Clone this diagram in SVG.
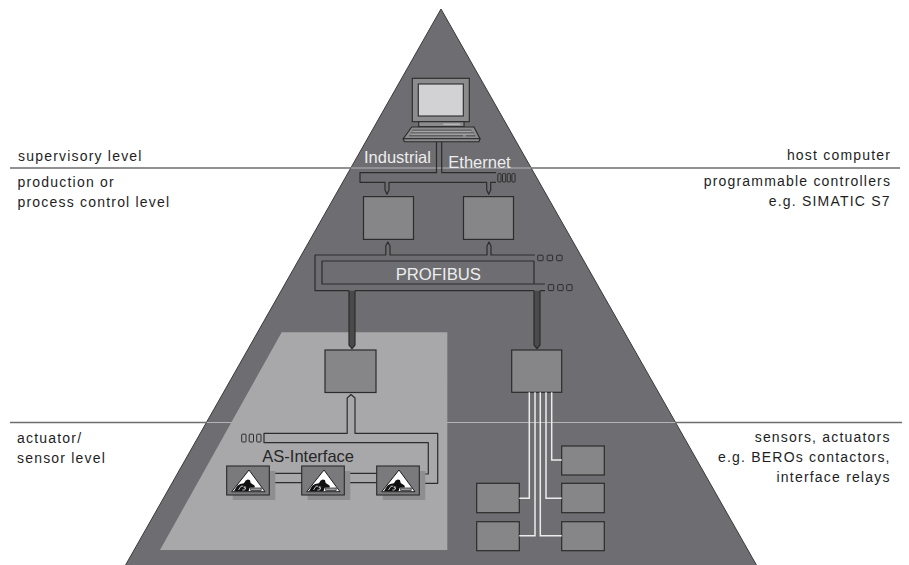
<svg xmlns="http://www.w3.org/2000/svg" width="909" height="565" viewBox="0 0 909 565">
  <style>
    .label { font-family: "Liberation Sans", Arial, sans-serif; font-size: 14px; letter-spacing: 1.2px; fill: #1e1e1e; }
    .end { text-anchor: end; }
    .bus-name { font-family: "Liberation Sans", Arial, sans-serif; font-size: 16.5px; fill: #ededed; }
    .lvl-out { stroke: #6e6e6e; stroke-width: 1.3; fill: none; }
    .lvl-in { stroke: #b4b4b7; stroke-width: 1; fill: none; }
    .box { fill: #868689; stroke: #2c2c2c; stroke-width: 1.2; }
    .pipe { fill: none; stroke: #2c2c2c; stroke-width: 1.2; stroke-linejoin: round; }
    .dot { stroke: #2c2c2c; stroke-width: 1; }
    .wire { fill: none; stroke: #ececec; stroke-width: 1.5; }
    .hw { fill: #8c8c8f; stroke: #2a2a2a; stroke-width: 1.1; }
    .module { fill: #7a7a7d; stroke: #2a2a2a; stroke-width: 1.1; }
    .shadow { fill: #8e8e91; }
  </style>
  <defs>
    <!-- AS-i slave symbol, drawn relative to the module's top-left corner -->
    <g id="asi-icon">
      <path d="M22.3,4 L5,25.7 L38.3,25.7 Z" fill="#ffffff" stroke="#1e1e1e" stroke-width="1"/>
      <path d="M7.2,25.2 L10.5,19.8 L13.5,18 L17.2,17.2 L19,14.6 L21,13.4 L23.2,14 L24,17 L27.8,19.4 L28.2,21.6 L23,21.8 L21.8,25.2 Z" fill="#111111"/>
      <path d="M11.8,24 L14.3,20.2 H16.6 M15.6,24 H17.8 L19.2,21.8 H17.2 L18.6,20" stroke="#ffffff" stroke-width="0.7" fill="none"/>
      <rect x="24" y="22" width="10.5" height="2.6" fill="#9a9a9d" stroke="#1e1e1e" stroke-width="0.7"/>
    </g>
  </defs>

  <rect x="0" y="0" width="909" height="565" fill="#ffffff"/>

  <!-- pyramid -->
  <g id="pyramid">
    <polygon points="441,9 125,566 757,566" fill="#6e6e72" stroke="#3a3a3a" stroke-width="1"/>
  </g>

  <!-- level separators -->
  <g id="level-lines">
    <path class="lvl-out" d="M10,168 H351 M531,168 H900 M10,422.5 H206.8 M675.2,422.5 H902"/>
    <path class="lvl-in" d="M351,168 H531 M206.8,422.5 H675.2"/>
  </g>

  <!-- field-level area with AS-Interface -->
  <g id="asi-area">
    <polygon points="281.7,332.3 447.3,332.3 447.3,550 160,550" fill="#a8a8ab"/>
  </g>

  <!-- level labels -->
  <g id="labels-left">
    <text class="label" x="18" y="160.5">supervisory level</text>
    <text class="label" x="17.5" y="186.5">production or</text>
    <text class="label" x="17.5" y="206.5">process control level</text>
    <text class="label" x="17" y="443">actuator/</text>
    <text class="label" x="17" y="463">sensor level</text>
  </g>
  <g id="labels-right">
    <text class="label end" x="891.2" y="159.5">host computer</text>
    <text class="label end" x="891.2" y="186">programmable controllers</text>
    <text class="label end" x="890.7" y="205.5">e.g. SIMATIC S7</text>
    <text class="label end" x="890.7" y="441.5">sensors, actuators</text>
    <text class="label end" x="890.7" y="461.5">e.g. BEROs contactors,</text>
    <text class="label end" x="890.7" y="481.5">interface relays</text>
  </g>

  <!-- host computer -->
  <g id="host-computer">
    <rect class="hw" x="412.3" y="78.3" width="57" height="43.4"/>
    <rect x="418.3" y="84" width="45" height="32" fill="#d2d2d4" stroke="#2a2a2a" stroke-width="1.1"/>
    <rect class="hw" x="418.7" y="121.7" width="45.3" height="5"/>
    <path d="M443.3,124.2 H460" stroke="#cfcfd1" stroke-width="0.9"/>
    <polygon class="hw" points="411.7,127 474,127 480,138.7 403.3,138.7"/>
    <polygon class="hw" points="403.3,138.7 480,138.7 479,141.7 404.3,141.7"/>
    <path d="M412.5,130.2 H471.5 M410.8,133 H474 M409.2,135.8 H463 M466,135.8 H475.5" stroke="#3a3a3a" stroke-width="0.8" fill="none"/>
    <path d="M413,131.3 H471 M411.3,134.1 H473.5" stroke="#c4c4c6" stroke-width="0.6" fill="none"/>
  </g>

  <!-- programmable controllers -->
  <g id="plc-1"><rect class="box" x="363.5" y="196.6" width="50" height="42.8"/></g>
  <g id="plc-2"><rect class="box" x="463.5" y="196.6" width="50" height="42.8"/></g>

  <!-- PROFIBUS slaves -->
  <g id="asi-master"><rect class="box" x="325" y="350" width="51" height="42.5"/></g>
  <g id="io-station"><rect class="box" x="511.7" y="350" width="50" height="42.3"/></g>

  <!-- sensors / actuators on the right -->
  <g id="device-r1"><rect class="box" x="561.7" y="446" width="42.6" height="29"/></g>
  <g id="device-r2"><rect class="box" x="561.7" y="483.3" width="42.6" height="29.4"/></g>
  <g id="device-r3"><rect class="box" x="561.7" y="521.7" width="42.6" height="29"/></g>
  <g id="device-l1"><rect class="box" x="476.7" y="483.3" width="42.6" height="29.4"/></g>
  <g id="device-l2"><rect class="box" x="476.7" y="521.7" width="42.6" height="29"/></g>

  <!-- connectors -->
  <g id="connectors">
    <!-- Industrial Ethernet -->
    <path class="pipe" d="M436.5,141.7 V172.7 H360 V182.3 H385 V190 L387,194.3 L389,190 V182.3 H486.7 V190 L488.7,194.3 L490.7,190 V182.3 H496"/>
    <path class="pipe" d="M441.7,141.7 V172.7 H496"/>
    <g fill="#6e6e72">
      <rect class="dot" x="497.8" y="173.6" width="3.2" height="8.4" rx="0.8"/>
      <rect class="dot" x="502.5" y="173.6" width="3.2" height="8.4" rx="0.8"/>
      <rect class="dot" x="507.2" y="173.6" width="3.2" height="8.4" rx="0.8"/>
      <rect class="dot" x="511.9" y="173.6" width="3.2" height="8.4" rx="0.8"/>
    </g>

    <!-- PROFIBUS -->
    <path class="pipe" d="M535,255 H491 V246 L489,242 L487,246 V255 H390 V246 L387.9,242 L385.8,246 V255 H315 V290.7 H349"/>
    <path class="pipe" d="M355,290.7 H534 M540,290.7 H545"/>
    <path class="pipe" d="M534,261 H322 V284 H545 M534,261 V284"/>
    <g fill="#6e6e72">
      <rect class="dot" x="537.7" y="255.2" width="5.4" height="5.5" rx="0.8"/>
      <rect class="dot" x="547.2" y="255.2" width="5.4" height="5.5" rx="0.8"/>
      <rect class="dot" x="556.7" y="255.2" width="5.4" height="5.5" rx="0.8"/>
      <rect class="dot" x="548.3" y="284.6" width="5.4" height="6" rx="0.8"/>
      <rect class="dot" x="557.7" y="284.6" width="5.4" height="6" rx="0.8"/>
      <rect class="dot" x="566.7" y="284.6" width="5.4" height="6" rx="0.8"/>
    </g>
    <!-- drops to the PROFIBUS slaves -->
    <polygon points="349,290.7 355,290.7 355,345 352,348.7 349,345" fill="#4a4a4d"/>
    <path class="pipe" d="M349,290.7 V345 L352,348.7 L355,345 V290.7"/>
    <polygon points="534,290.7 540,290.7 540,345 537,348.5 534,345" fill="#4a4a4d"/>
    <path class="pipe" d="M534,290.7 V345 L537,348.5 L540,345 V290.7"/>

    <!-- wiring from the I/O station -->
    <path class="wire" d="M529.3,392.3 V498.3 H519.3"/>
    <path class="wire" d="M535,392.3 V535.7 H519.3"/>
    <path class="wire" d="M540.3,392.3 V535.7 H561.7"/>
    <path class="wire" d="M546,392.3 V498.3 H561.7"/>
    <path class="wire" d="M551.7,392.3 V460 H561.7"/>

    <!-- AS-Interface cable -->
    <path class="pipe" d="M419.3,483.3 H437.7 V433.3 H355 V398 L351,394.5 L347.2,398 V433.3 H264 V442.7 H428.3 V474 H419.3"/>
    <path class="pipe" d="M269.3,473.3 H301.7 M269.3,482.7 H301.7 M344.3,473.3 H376.7 M344.3,482.7 H376.7"/>
    <g fill="#a8a8ab">
      <rect class="dot" x="241.7" y="434.2" width="4.3" height="7.8" rx="0.8"/>
      <rect class="dot" x="249.2" y="434.2" width="4.3" height="7.8" rx="0.8"/>
      <rect class="dot" x="256.7" y="434.2" width="4.3" height="7.8" rx="0.8"/>
    </g>
  </g>

  <!-- AS-i slaves -->
  <g id="asi-slave-1">
    <rect class="shadow" x="232.7" y="471" width="42.6" height="29"/>
    <rect class="module" x="226.7" y="466" width="42.6" height="29"/>
    <use href="#asi-icon" x="226.7" y="466"/>
  </g>
  <g id="asi-slave-2">
    <rect class="shadow" x="307.7" y="471" width="42.6" height="29"/>
    <rect class="module" x="301.7" y="466" width="42.6" height="29"/>
    <use href="#asi-icon" x="301.7" y="466"/>
  </g>
  <g id="asi-slave-3">
    <rect class="shadow" x="382.7" y="471" width="42.6" height="29"/>
    <rect class="module" x="376.7" y="466" width="42.6" height="29"/>
    <use href="#asi-icon" x="376.7" y="466"/>
  </g>

  <!-- bus names -->
  <g id="bus-labels">
    <text class="bus-name" x="364" y="163.3">Industrial</text>
    <text class="bus-name" x="448.3" y="168.3">Ethernet</text>
    <text class="bus-name" x="438.3" y="280" text-anchor="middle" style="font-size:16.7px">PROFIBUS</text>
    <text class="bus-name" x="262.3" y="461.7" style="fill:#262626">AS-Interface</text>
  </g>
</svg>
